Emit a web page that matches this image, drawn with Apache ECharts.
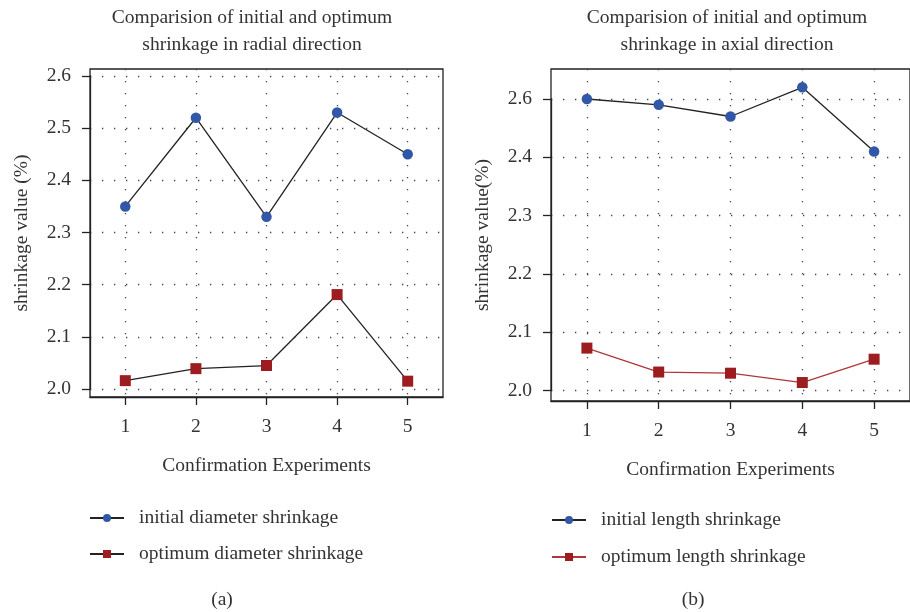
<!DOCTYPE html>
<html>
<head>
<meta charset="utf-8">
<script src="https://cdn.jsdelivr.net/npm/echarts@6/dist/echarts.min.js"></script>
<style>html,body{margin:0;padding:0;background:#fff}#c{width:910px;height:612px}</style>
</head>
<body>
<div id="c"></div>
<script>
// ---- data ----
const categories = ['1', '2', '3', '4', '5'];
const radialInitial = [2.35, 2.52, 2.33, 2.53, 2.45];
const radialOptimum = [2.016, 2.039, 2.045, 2.181, 2.015];
const axialInitial = [2.50, 2.49, 2.47, 2.52, 2.41];
const axialOptimum = [2.073, 2.032, 2.030, 2.014, 2.054];
const radialTickLabels = ['2.0', '2.1', '2.2', '2.3', '2.4', '2.5', '2.6'];
const axialTickLabels = ['2.0', '2.1', '2.2', '2.3', '2.4', '2.6'];

const FONT = "'Liberation Serif', 'DejaVu Serif', serif";
const FS = 19.5;
const TXT = '#333';
const BLUE = '#3157a6';
const RED = '#9c1c20';
const BLACK = '#222';

const chart = echarts.init(document.getElementById('c'), null, {renderer: 'canvas'});

function frameX(gridIndex) {
  return {
    type: 'category', gridIndex: gridIndex, data: categories, boundaryGap: true,
    axisLine: {show: true, lineStyle: {color: BLACK, width: 1.3}},
    axisTick: {show: true, alignWithLabel: true, length: 8, lineStyle: {color: BLACK, width: 1.3}},
    axisLabel: {margin: 20, fontSize: FS, fontFamily: FONT, color: TXT},
    splitLine: {show: true, alignWithLabel: true, lineStyle: {color: '#444', width: 1.3, type: [1.3, 10.7]}},
    name: 'Confirmation Experiments', nameLocation: 'middle', nameGap: 59,
    nameTextStyle: {fontSize: FS, fontFamily: FONT, color: TXT}
  };
}
function dataX(gridIndex) {
  return {type: 'category', gridIndex: gridIndex, data: categories, boundaryGap: true, show: false};
}
function frameY(gridIndex, name) {
  return {
    type: 'value', gridIndex: gridIndex, min: 0, max: 1,
    axisLine: {show: false}, axisTick: {show: false}, axisLabel: {show: false}, splitLine: {show: false},
    name: name, nameLocation: 'middle', nameGap: 58,
    nameTextStyle: {fontSize: FS, fontFamily: FONT, color: TXT}
  };
}
function dataY(gridIndex, min, max, labels) {
  return {
    type: 'value', gridIndex: gridIndex, min: min, max: max, interval: 0.1,
    axisLine: {show: true, lineStyle: {color: BLACK, width: 1.3}},
    axisTick: {show: true, length: 8, lineStyle: {color: BLACK, width: 1.3}},
    axisLabel: {margin: 19, fontSize: FS, fontFamily: FONT, color: TXT,
      formatter: function (v) { return labels[Math.round((v - min) / 0.1)]; }},
    splitLine: {show: true, lineStyle: {color: '#444', width: 1.3, type: [1.3, 10.7]}}
  };
}

const titleStyle = {fontSize: FS, fontWeight: 'normal', fontFamily: FONT, color: TXT, lineHeight: 27};
const capStyle = {fontSize: FS, fontWeight: 'normal', fontFamily: FONT, color: TXT, lineHeight: 24};

chart.setOption({
  animation: false,
  backgroundColor: '#fff',
  title: [
    {text: 'Comparision of initial and optimum\nshrinkage in radial direction', left: 252, top: 4, padding: 0, textAlign: 'center', textStyle: titleStyle},
    {text: 'Comparision of initial and optimum\nshrinkage in axial direction', left: 727, top: 4, padding: 0, textAlign: 'center', textStyle: titleStyle},
    {text: '(a)', left: 222, top: 588, padding: 0, textAlign: 'center', textStyle: capStyle},
    {text: '(b)', left: 693, top: 588, padding: 0, textAlign: 'center', textStyle: capStyle}
  ],
  grid: [
    {left: 90, right: 467, top: 69, bottom: 215, show: true, borderColor: BLACK, borderWidth: 1.3, backgroundColor: 'transparent'},
    {left: 90, right: 467, top: 76, bottom: 223},
    {left: 551, right: -10, top: 69, bottom: 211, show: true, borderColor: BLACK, borderWidth: 1.3, backgroundColor: 'transparent'},
    {left: 551, right: -10, top: 99, bottom: 221.3}
  ],
  xAxis: [frameX(0), dataX(1), frameX(2), dataX(3)],
  yAxis: [
    frameY(0, 'shrinkage value (%)'),
    dataY(1, 2.0, 2.6, radialTickLabels),
    frameY(2, 'shrinkage value(%)'),
    dataY(3, 2.0, 2.5, axialTickLabels)
  ],
  legend: [
    {data: ['initial diameter shrinkage', 'optimum diameter shrinkage'], orient: 'vertical', left: 89, top: 508, padding: 0,
     itemWidth: 34, itemHeight: 10, itemGap: 16,
     textStyle: {fontSize: FS, fontFamily: FONT, color: TXT, lineHeight: 19, padding: [0, 0, 0, 10]}},
    {data: ['initial length shrinkage', 'optimum length shrinkage'], orient: 'vertical', left: 551, top: 510, padding: 0,
     itemWidth: 34, itemHeight: 10, itemGap: 17,
     textStyle: {fontSize: FS, fontFamily: FONT, color: TXT, lineHeight: 19, padding: [0, 0, 0, 10]}}
  ],
  series: [
    {name: 'initial diameter shrinkage', type: 'line', xAxisIndex: 1, yAxisIndex: 1, data: radialInitial, clip: false,
     symbol: 'circle', symbolSize: 10.5, itemStyle: {color: BLUE}, lineStyle: {color: BLACK, width: 1.3}, z: 5},
    {name: 'optimum diameter shrinkage', type: 'line', xAxisIndex: 1, yAxisIndex: 1, data: radialOptimum, clip: false,
     symbol: 'rect', symbolSize: 11, itemStyle: {color: RED}, lineStyle: {color: BLACK, width: 1.3}, z: 5},
    {name: 'initial length shrinkage', type: 'line', xAxisIndex: 3, yAxisIndex: 3, data: axialInitial, clip: false,
     symbol: 'circle', symbolSize: 10.5, itemStyle: {color: BLUE}, lineStyle: {color: BLACK, width: 1.3}, z: 5},
    {name: 'optimum length shrinkage', type: 'line', xAxisIndex: 3, yAxisIndex: 3, data: axialOptimum, clip: false,
     symbol: 'rect', symbolSize: 11, itemStyle: {color: RED}, lineStyle: {color: '#b0363a', width: 1.3}, z: 5}
  ]
});
</script>
</body>
</html>
